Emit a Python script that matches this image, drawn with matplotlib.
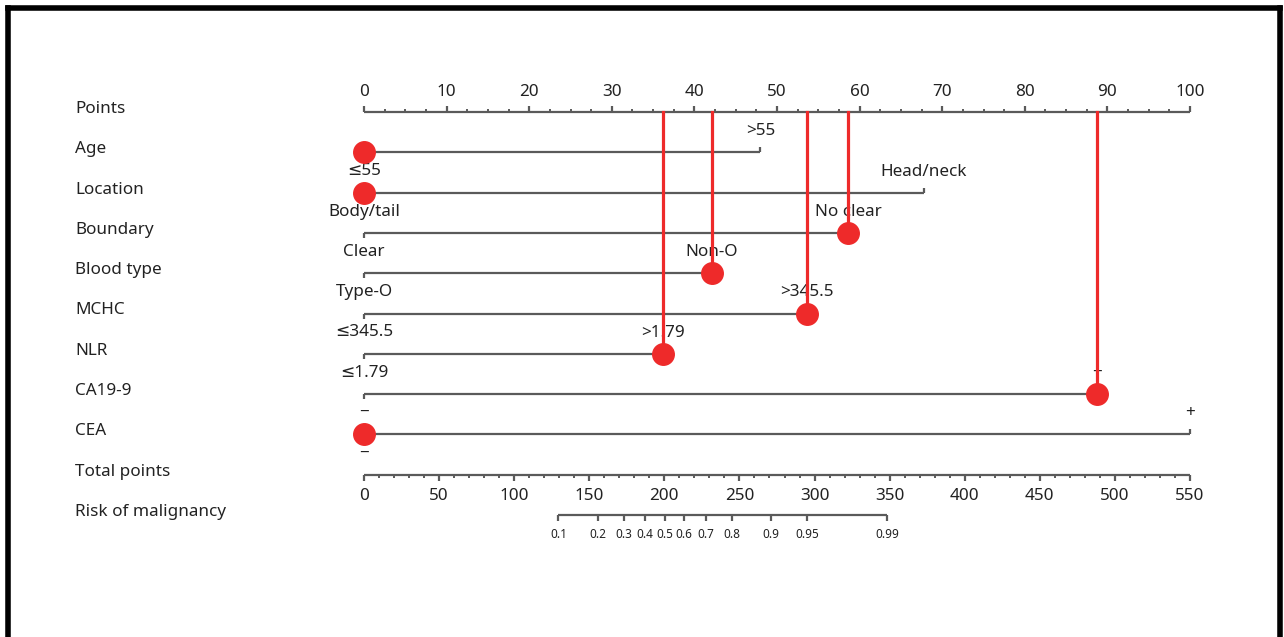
import matplotlib
matplotlib.use('Agg')
import matplotlib.pyplot as plt
from matplotlib.lines import Line2D
import numpy as np

plt.rcParams['font.family'] = ['Noto Sans', 'DejaVu Sans']

# Nomogram data (points for each level)
variables = ['Age', 'Location', 'Boundary', 'Blood type', 'MCHC', 'NLR', 'CA19-9', 'CEA']
low_labels = ['≤55', 'Body/tail', 'Clear', 'Type-O', '≤345.5', '≤1.79', '−', '−']
high_labels = ['>55', 'Head/neck', 'No clear', 'Non-O', '>345.5', '>1.79', '+', '+']
high_points = [48, 67.8, 58.6, 42.1, 53.6, 36.2, 88.7, 100]
# which level the example patient has (0 = low, 1 = high)
patient_level = [0, 0, 1, 1, 1, 1, 1, 0]

points_ticks = list(range(0, 101, 10))
total_ticks = list(range(0, 551, 50))
total_max = 550
risk_ticks = [0.1, 0.2, 0.3, 0.4, 0.5, 0.6, 0.7, 0.8, 0.9, 0.95, 0.99]
risk_tick_labels = ['0.1', '0.2', '0.3', '0.4', '0.5', '0.6', '0.7', '0.8', '0.9', '0.95', '0.99']
# total points = intercept + slope * logit(risk)
risk_intercept = 200.2
risk_slope = 32.2

GRAY = '#5a5a5a'
TXT = '#222222'
RED = '#ee2a2a'
FS = 12.3

fig = plt.figure(figsize=(12.84, 6.37), dpi=100)
ax = fig.add_axes([0, 0, 1, 1])
PX = 8.26  # pixels per point
ax.set_xlim(-364 / PX, (1284 - 364) / PX)
ax.set_ylim(637, 0)
ax.axis('off')


def tp_to_x(tp):
    return np.asarray(tp, dtype=float) * 100 / total_max


def risk_to_x(p):
    p = np.asarray(p, dtype=float)
    return tp_to_x(risk_intercept + risk_slope * np.log(p / (1 - p)))


row_names = ['Points'] + variables + ['Total points', 'Risk of malignancy']
row_y = [112 + 40.3 * i for i in range(len(row_names))]
label_x = (75 - 364) / PX

for name, y in zip(row_names, row_y):
    ax.text(label_x, y - 3, name, fontsize=FS, color=TXT, va='center', ha='left')

# Points axis
y0 = row_y[0]
ax.plot([0, 100], [y0, y0], color=GRAY, lw=1.6, solid_capstyle='butt')
ax.vlines(points_ticks, y0 - 6, y0, color=GRAY, lw=1.6)
minor = [v for v in np.arange(0, 100.1, 2.5) if v % 10 != 0]
ax.vlines(minor, y0 - 3, y0, color=GRAY, lw=1.4)
for t in points_ticks:
    ax.text(t, y0 - 20, str(t), fontsize=FS, color=TXT, ha='center', va='center')

# variable lines
total = 0
for i, var in enumerate(variables):
    y = row_y[i + 1]
    hp = high_points[i]
    ax.plot([0, hp], [y, y], color=GRAY, lw=1.6, solid_capstyle='butt')
    ax.vlines(0, y, y + 5, color=GRAY, lw=1.6)
    ax.vlines(hp, y - 5, y, color=GRAY, lw=1.6)
    ax.text(0, y + 19, low_labels[i], fontsize=FS, color=TXT, ha='center', va='center')
    ax.text(hp, y - 21, high_labels[i], fontsize=FS, color=TXT, ha='center', va='center')
    px = hp if patient_level[i] == 1 else 0
    total += px
    if px > 0:
        ax.plot([px, px], [y0, y], color=RED, lw=2.3, zorder=4)
    ax.plot(px, y, 'o', color=RED, markersize=15.5, zorder=5)

# Total points axis
yt = row_y[-2]
tx = tp_to_x(total_ticks)
ax.plot([0, 100], [yt, yt], color=GRAY, lw=1.6, solid_capstyle='butt')
ax.vlines(tx, yt, yt + 6, color=GRAY, lw=1.6)
tminor = tp_to_x([v for v in range(0, 551, 10) if v % 50 != 0])
ax.vlines(tminor, yt, yt + 3, color=GRAY, lw=1.4)
for t, x in zip(total_ticks, tx):
    ax.text(x, yt + 21, str(t), fontsize=FS, color=TXT, ha='center', va='center')

# Risk axis
yr = row_y[-1]
rx = risk_to_x(risk_ticks)
ax.plot([rx[0], rx[-1]], [yr, yr], color=GRAY, lw=1.6, solid_capstyle='butt')
ax.vlines(rx, yr, yr + 6, color=GRAY, lw=1.6)
for lab, x in zip(risk_tick_labels, rx):
    ax.text(x, yr + 19, lab, fontsize=8.5, color=TXT, ha='center', va='center')

# patient total
tot_x = total * 1.0
ax.plot([tot_x, tot_x], [yt, yr - 5], color=RED, lw=2.3, zorder=4)
ax.plot(tot_x, yt - 2, 'o', color=RED, markersize=15.5, zorder=5)

# black frame (bottom edge outside the picture)
W, H = 1284, 637
for xs, ys in [([8 / W, 8 / W], [0, 1 - 8 / H]),
               ([8 / W, 1280 / W], [1 - 8 / H, 1 - 8 / H]),
               ([1280 / W, 1280 / W], [0, 1 - 8 / H])]:
    fig.add_artist(Line2D(xs, ys, color='black', lw=4.0, transform=fig.transFigure,
                          solid_capstyle='projecting'))

plt.savefig('out.png', dpi=100)
